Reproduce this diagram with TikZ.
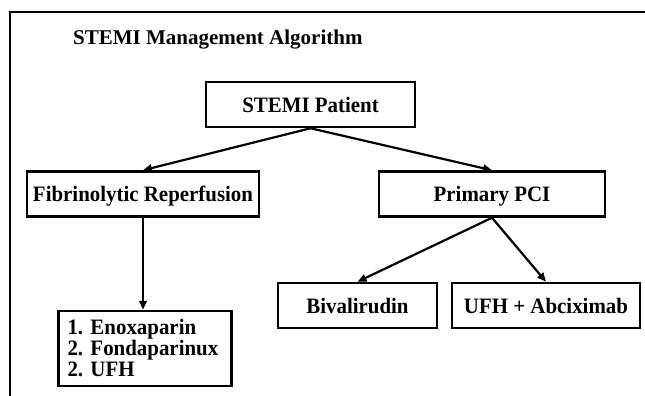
\documentclass[tikz,border=0pt]{standalone}
\usepackage{fontspec}
\setmainfont{Liberation Serif}
\newfontfamily\boxfont{Liberation Serif}[FakeStretch=0.95]
\usetikzlibrary{arrows.meta}

\begin{document}
\frenchspacing
\begin{tikzpicture}[x=1pt,y=-1pt,
    frame/.style={draw,line width=2.5pt,font=\boxfont\fontsize{22}{21}\selectfont\bfseries,inner sep=0pt},
    box/.style={frame,text height=15pt,text depth=0pt,minimum height=45pt},
    arr/.style={-{Triangle[length=9pt,width=7.5pt]},line width=2.2pt}]
    \useasboundingbox (0,0) rectangle (645,396);

    % 绘制外框
    \draw[line width=2.8pt] (645,12) -- (10,12) -- (10,396);

    % 绘制标题
    \node[anchor=base west,inner sep=0pt,font=\fontsize{21}{21}\selectfont\bfseries] (title) at (73,45) {STEMI Management Algorithm};

    % 绘制各个方框
    \node[box,minimum width=209pt] (patient) at (310.5,104.5) {STEMI Patient};
    \node[box,minimum width=232pt] (fib) at (143,194) {Fibrinolytic Reperfusion};
    \node[box,minimum width=226pt] (pci) at (492,194) {Primary PCI};
    \node[box,minimum width=159pt] (biv) at (357.5,305.5) {Bivalirudin};
    \node[box,minimum width=188pt] (ufh) at (546,305.5) {UFH + Abciximab};
    \node[frame,minimum width=168pt,minimum height=75pt,align=left,
        text width=155pt,inner xsep=9pt,inner ysep=6pt] (drugs) at (145,348.5)
        {1. Enoxaparin\\2. Fondaparinux\\2. UFH};

    % 绘制箭头
    \draw[arr] (patient.south) -- (fib.north);
    \draw[arr] (patient.south) -- (pci.north);
    \draw[arr] (fib.south) -- (fib.south |- drugs.north);
    \draw[arr] (pci.south) -- (biv.north);
    \draw[arr] (pci.south) -- (ufh.north);
\end{tikzpicture}
\end{document}
